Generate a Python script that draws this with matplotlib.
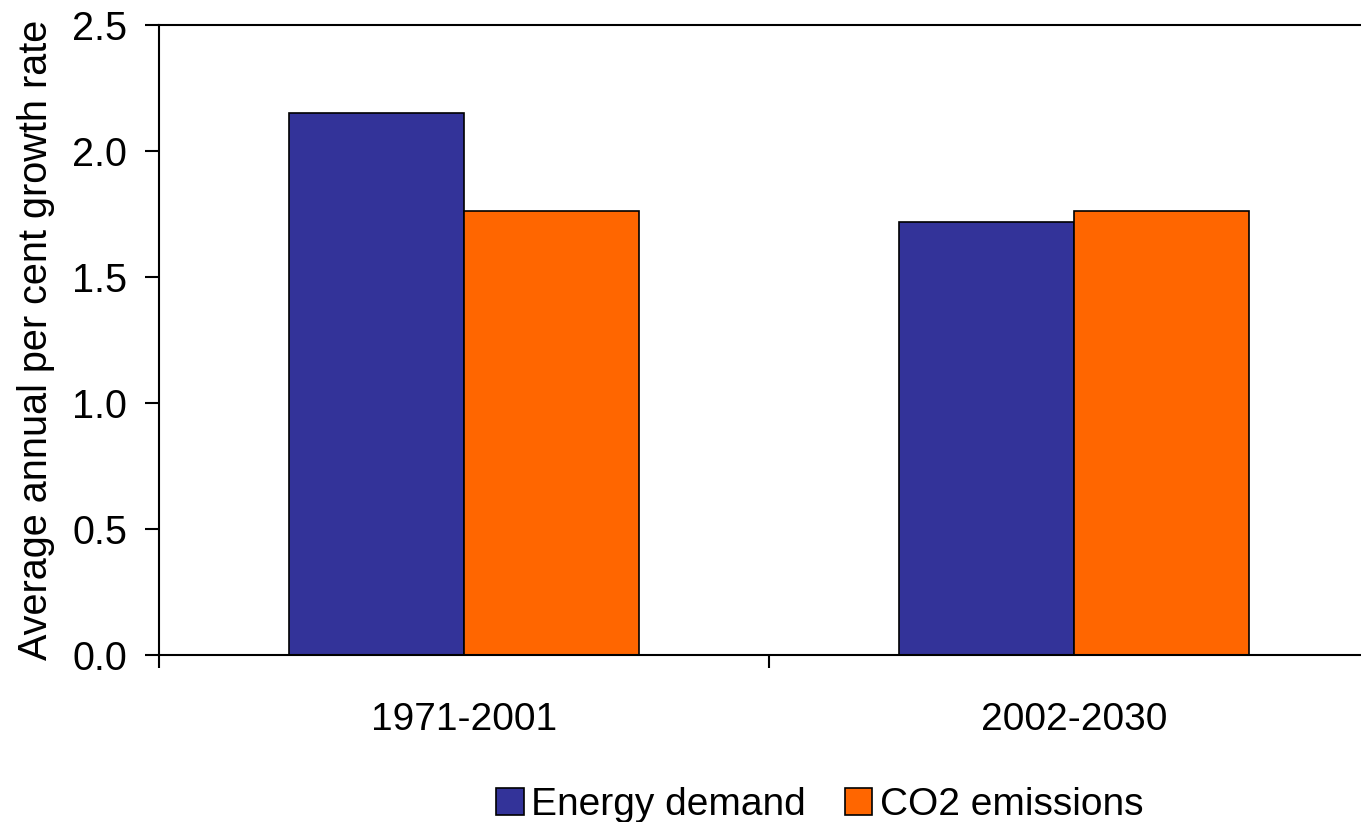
import matplotlib
matplotlib.use('Agg')
import matplotlib.pyplot as plt
import numpy as np

periods = ["1971-2001", "2002-2030"]
energy_demand = [2.15, 1.72]
co2_emissions = [1.76, 1.76]

plt.rcParams['font.family'] = ['Liberation Sans', 'DejaVu Sans']

fig = plt.figure(figsize=(13.61, 8.22), dpi=100)
# plot area runs off the right edge of the canvas
ax = fig.add_axes([159 / 1361, 1 - 655 / 822, 1220 / 1361, 630 / 822])

x = np.arange(len(periods))
width = 175 / 610
ax.bar(x - width / 2, energy_demand, width, color="#333399", edgecolor="black",
       linewidth=1.2, label="Energy demand")
ax.bar(x + width / 2, co2_emissions, width, color="#FF6600", edgecolor="black",
       linewidth=1.2, label="CO2 emissions")

ax.set_xlim(-0.5, 1.5)
ax.set_ylim(0, 2.5)
ax.set_yticks([0, 0.5, 1.0, 1.5, 2.0, 2.5])
ax.set_yticklabels(["0.0", "0.5", "1.0", "1.5", "2.0", "2.5"])
ax.set_xticks(x)
ax.set_xticklabels(periods)
ax.set_xticks([-0.5, 0.5, 1.5], minor=True)
ax.tick_params(axis='x', which='major', length=0, pad=34, labelsize=28)
ax.tick_params(axis='x', which='minor', length=9, width=1.5, direction='out')
ax.tick_params(axis='y', length=10, width=1.5, direction='out', pad=13, labelsize=28.5)

for side in ["left", "bottom", "top"]:
    ax.spines[side].set_linewidth(1.5)
ax.spines["right"].set_visible(False)

ax.set_ylabel("Average annual per cent growth rate", fontsize=28.5, labelpad=12)

fig.legend(loc="center", bbox_to_anchor=(820 / 1361, 1 - 805 / 822), ncol=2,
           frameon=False, fontsize=28, handlelength=0.7, handleheight=0.7,
           handletextpad=0.2, columnspacing=1.0, borderaxespad=0)

fig.savefig("out.png", dpi=100)
